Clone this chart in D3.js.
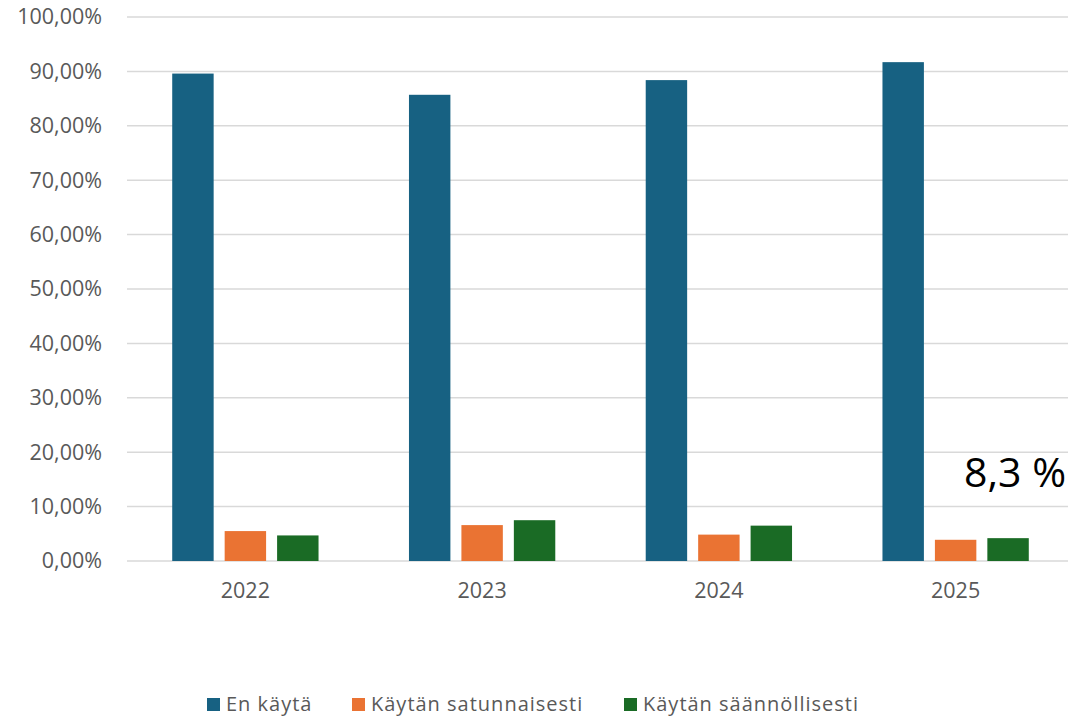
<!DOCTYPE html>
<html><head><meta charset="utf-8">
<script src="https://cdn.jsdelivr.net/npm/d3@7"></script>
<style>body{margin:0;background:#fff}svg{display:block}</style>
</head><body>
<svg id="c" width="1068" height="716"></svg>
<script>
const categories = ["2022","2023","2024","2025"];
const seriesNames = ["En käytä","Käytän satunnaisesti","Käytän säännöllisesti"];
const enKayta = [89.6, 85.7, 88.4, 91.7];
const satunnaisesti = [5.5, 6.6, 4.85, 3.9];
const saannollisesti = [4.7, 7.5, 6.5, 4.2];
const colors = ["#176182","#EA7333","#1A6B25"];
const yTicks = [0,10,20,30,40,50,60,70,80,90,100];
const annotation = "8,3 %";

(function(){
const series = [enKayta, satunnaisesti, saannollisesti];
const svg = d3.select("#c");
const font = "'Open Sans', sans-serif";
const pl = 127, pr = 1074, pt = 17, pb = 561;

const y = d3.scaleLinear().domain([0,100]).range([pb, pt]);
const x0 = d3.scaleBand().domain(categories).range([pl, pr]).paddingInner(0.382).paddingOuter(0.191);
const x1 = d3.scaleBand().domain(d3.range(3)).range([0, x0.bandwidth()]).paddingInner(0.21).paddingOuter(0);

svg.append("g").selectAll("line").data(yTicks).join("line")
  .attr("x1", pl).attr("x2", 1068)
  .attr("y1", d => y(d)).attr("y2", d => y(d))
  .attr("stroke", "#d9d9d9").attr("stroke-width", 1.5);

const yAxis = d3.axisLeft(y).tickValues(yTicks).tickSize(0).tickPadding(0)
  .tickFormat(d => d3.format(".2f")(d).replace(".", ",") + "%");
const gy = svg.append("g").attr("transform", `translate(102,0)`).call(yAxis);
gy.select(".domain").remove();
gy.selectAll("text").attr("font-family", font).attr("font-size", 21.5).attr("fill", "#595959");

const groups = svg.append("g").selectAll("g").data(categories).join("g")
  .attr("transform", c => `translate(${x0(c)},0)`);
groups.selectAll("rect").data((c, i) => series.map((s, k) => ({k, v: s[i]}))).join("rect")
  .attr("x", d => x1(d.k)).attr("width", x1.bandwidth())
  .attr("y", d => y(d.v)).attr("height", d => y(0) - y(d.v))
  .attr("fill", d => colors[d.k]);

const xAxis = d3.axisBottom(x0).tickSize(0).tickPadding(0);
const gx = svg.append("g").attr("transform", `translate(0,${pb})`).call(xAxis);
gx.select(".domain").remove();
gx.selectAll("text").attr("dy", null).attr("y", 37)
  .attr("font-family", font).attr("font-size", 21.5).attr("fill", "#595959");

svg.append("text").attr("x", 964).attr("y", 487).attr("text-anchor", "start")
  .attr("font-family", font).attr("font-size", 41).attr("fill", "#000").text(annotation);

const legendX = [207, 352, 624];
const lg = svg.append("g").selectAll("g").data(seriesNames).join("g")
  .attr("transform", (d, i) => `translate(${legendX[i]},698)`);
lg.append("rect").attr("width", 13).attr("height", 13).attr("fill", (d, i) => colors[i]);
lg.append("text").attr("x", 19).attr("y", 13).attr("font-family", font).attr("font-size", 20)
  .attr("letter-spacing", 1.0).attr("fill", "#595959").text(d => d);
})();
</script>
</body></html>
